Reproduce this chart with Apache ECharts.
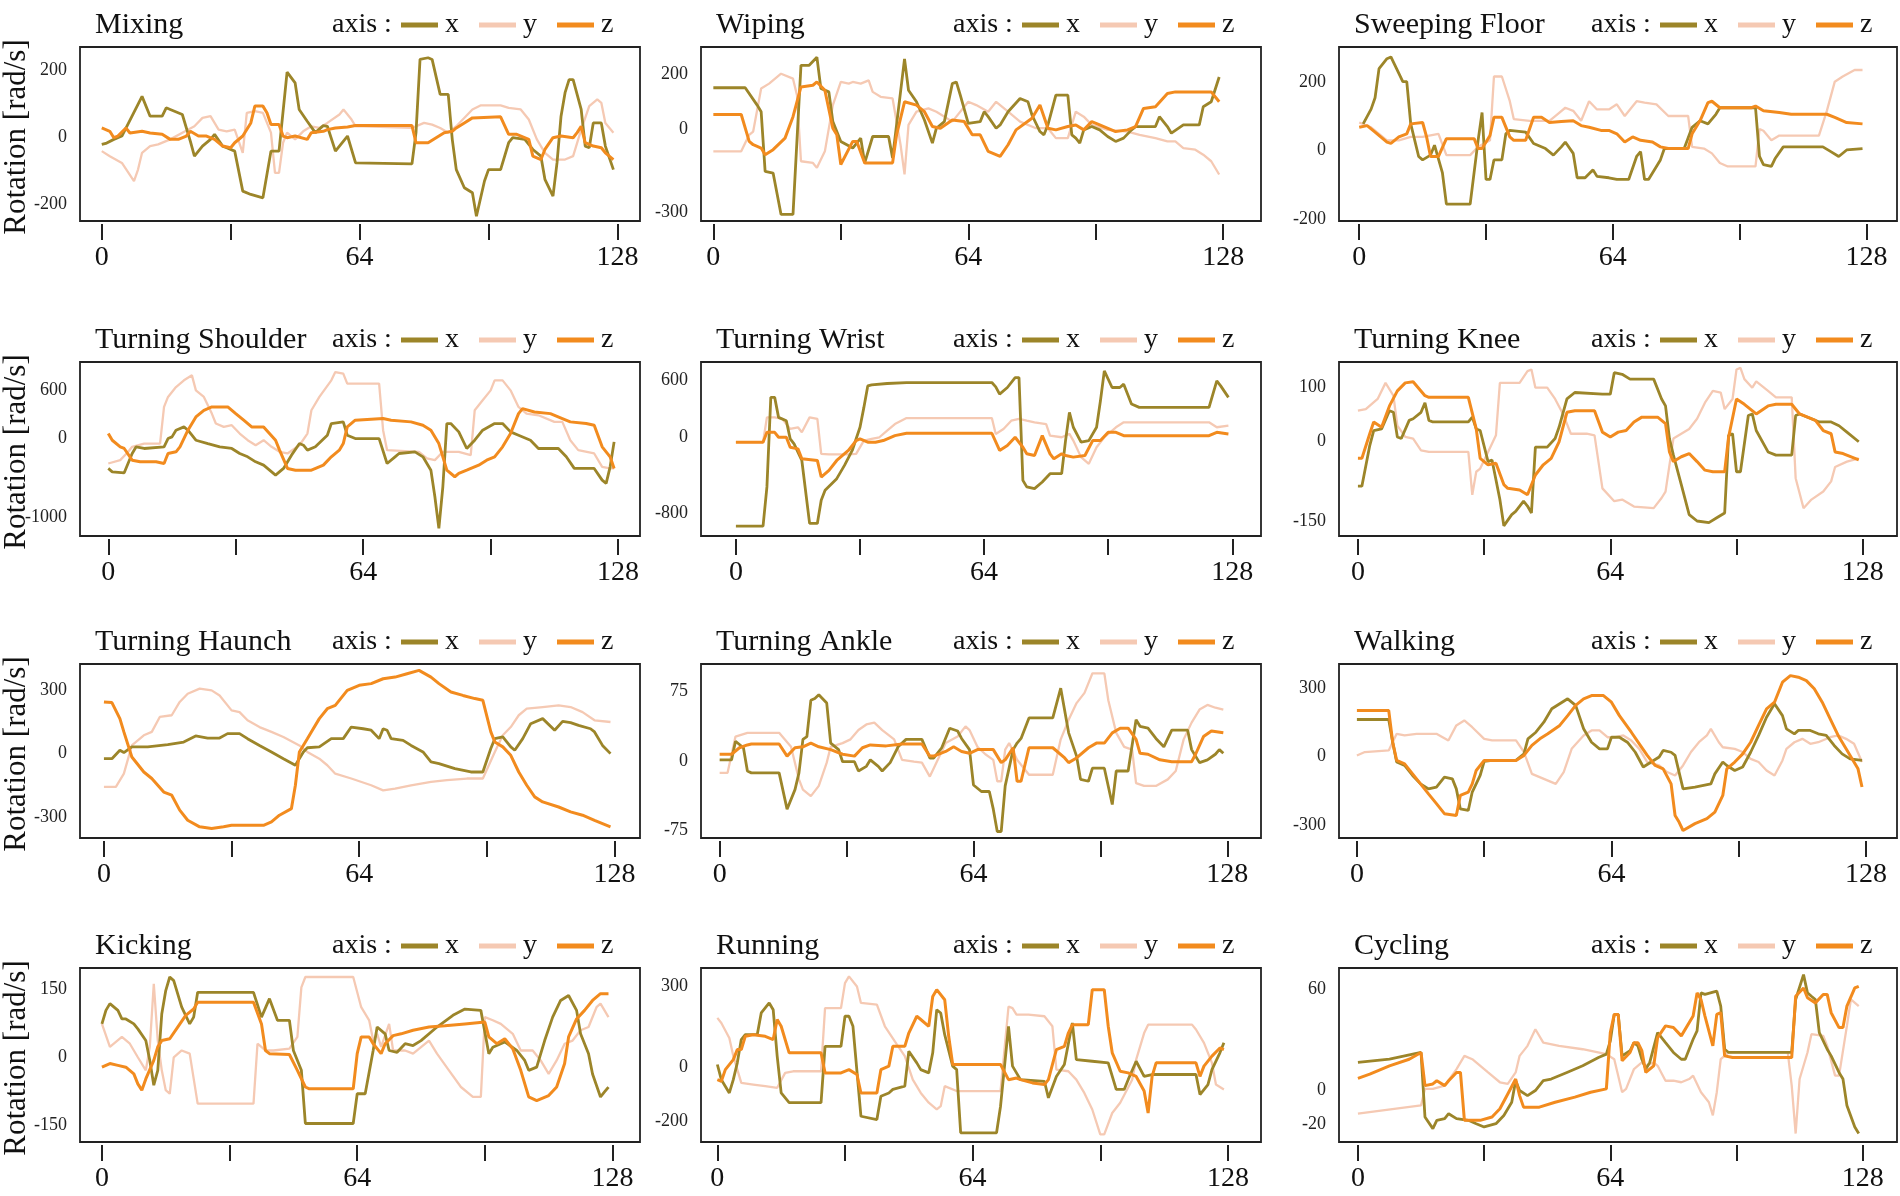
<!DOCTYPE html>
<html><head><meta charset="utf-8">
<script src="https://cdn.jsdelivr.net/npm/echarts@6/dist/echarts.min.js"></script>
<style>html,body{margin:0;padding:0;background:#fff}#c{width:1900px;height:1196px}</style>
</head><body><div id="c"></div>
<script>
// ---------- DATA ----------
const panelTitles = ['Mixing','Wiping','Sweeping Floor','Turning Shoulder','Turning Wrist','Turning Knee','Turning Haunch','Turning Ankle','Walking','Kicking','Running','Cycling'];
const axisNames = ['x','y','z'];
const xTickValues = [0,32,64,96,128];
const xLabelValues = [0,64,128];
const yTickValues = [[200,0,-200],[200,0,-300],[200,0,-200],[600,0,-1000],[600,0,-800],[100,0,-150],[300,0,-300],[75,0,-75],[300,0,-300],[150,0,-150],[300,0,-200],[60,0,-20]];
const yAxisName = 'Rotation [rad/s]';

const mixingX = [[0,-22],[1,-19],[3,-7],[5,3],[10,121],[12,62],[15,62],[16,87],[17,82],[20,67],[22,-13],[23,-57],[25,-27],[27,-7],[28,8],[30,-27],[31,-32],[33,-42],[35,-161],[37,-171],[40,-181],[42,-42],[44,-42],[46,193],[48,161],[49,82],[51,47],[53,13],[55,34],[56,32],[58,-42],[59,-27],[61,3],[63,-77],[77,-80],[78,13],[79,231],[81,236],[82,231],[84,127],[86,127],[87,-7],[88,-97],[90,-151],[92,-166],[93,-236],[95,-131],[96,-97],[99,-97],[101,-17],[102,-2],[105,-7],[107,-37],[109,-57],[110,-126],[112,-176],[113,-77],[114,62],[115,132],[116,171],[117,171],[119,82],[120,-27],[121,-32],[122,42],[124,42],[125,-27],[127,-97]];
const mixingY = [[0,-42],[2,-57],[5,-77],[8,-131],[9,-97],[10,-47],[12,-27],[14,-22],[17,-7],[20,13],[23,32],[25,57],[27,62],[29,22],[31,17],[33,22],[35,-47],[36,72],[38,77],[40,72],[42,13],[43,-107],[44,-107],[45,-17],[46,13],[48,-7],[50,17],[52,32],[54,27],[56,42],[59,67],[60,82],[62,52],[63,32],[65,32],[77,27],[80,42],[82,37],[84,27],[86,13],[88,32],[92,82],[94,94],[99,94],[101,87],[104,82],[106,52],[108,-7],[110,-47],[112,-67],[115,-67],[117,-57],[119,22],[121,92],[123,112],[124,102],[125,42],[127,13]];
const mixingZ = [[0,27],[2,17],[3,-2],[4,3],[6,27],[7,12],[10,17],[12,12],[15,8],[17,-7],[19,-7],[21,3],[22,17],[24,3],[26,3],[28,-7],[30,-27],[32,-32],[33,-17],[35,3],[37,42],[38,92],[40,92],[41,72],[42,37],[44,37],[45,3],[46,-2],[48,3],[51,-7],[52,13],[55,17],[56,22],[58,27],[61,30],[63,34],[77,34],[78,-17],[81,-17],[83,-2],[85,13],[87,17],[88,27],[90,42],[92,57],[99,60],[101,8],[103,8],[106,-7],[107,-57],[109,-67],[110,-37],[112,-2],[114,3],[117,-2],[118,13],[119,32],[120,-17],[122,-27],[124,-32],[125,-47],[127,-67]];

const wipingX = [[0,151],[8,151],[11,88],[12,64],[13,-153],[15,-159],[17,-309],[20,-309],[22,232],[24,232],[26,262],[27,148],[29,136],[30,28],[32,-44],[35,-68],[37,-32],[38,-122],[40,-26],[44,-26],[45,-104],[48,256],[49,142],[51,100],[53,34],[55,-50],[56,4],[58,28],[60,166],[61,172],[62,124],[64,22],[67,28],[68,64],[69,46],[71,4],[72,16],[74,64],[77,112],[79,100],[80,52],[82,-8],[83,-20],[84,16],[86,124],[89,124],[90,-20],[91,-32],[92,-50],[93,-2],[95,10],[97,-2],[99,-26],[101,-44],[103,-32],[105,-2],[106,10],[111,10],[112,46],[114,10],[115,-14],[118,16],[122,16],[123,82],[125,100],[127,190]];
const wipingY = [[0,-80],[7,-80],[9,-20],[10,-8],[12,148],[14,166],[17,202],[20,184],[21,124],[22,-116],[25,-122],[26,-140],[28,-80],[30,88],[32,172],[34,166],[35,172],[37,166],[39,178],[40,136],[42,118],[45,112],[47,-56],[48,-164],[49,16],[51,64],[54,76],[56,64],[60,28],[64,100],[66,88],[69,64],[71,100],[74,64],[77,28],[81,4],[84,4],[86,-32],[89,-32],[91,64],[93,46],[95,16],[99,-2],[104,-8],[107,-20],[111,-32],[114,-44],[116,-44],[118,-68],[121,-74],[123,-92],[125,-116],[127,-164]];
const wipingZ = [[0,54],[7,54],[9,-44],[10,-56],[12,-68],[13,-92],[15,-74],[18,-32],[20,46],[22,154],[25,160],[26,172],[28,142],[30,4],[31,-20],[32,-128],[35,-44],[36,-44],[38,-122],[45,-122],[46,-20],[48,100],[51,88],[53,64],[55,10],[57,4],[60,34],[63,28],[65,-20],[67,-20],[69,-80],[72,-98],[74,-56],[76,-2],[80,40],[82,88],[84,4],[86,-2],[89,10],[91,16],[93,-2],[95,28],[97,16],[101,-8],[104,-2],[106,10],[108,76],[111,82],[114,130],[116,136],[125,136],[127,100]];

const sweepingX = [[1,78],[3,121],[4,154],[5,239],[7,268],[8,273],[9,249],[11,201],[12,201],[13,78],[15,-17],[16,-27],[18,-13],[19,16],[21,-65],[22,-156],[28,-156],[30,30],[31,111],[32,-84],[33,-84],[34,-27],[36,-27],[37,49],[38,59],[42,54],[44,21],[47,6],[49,-13],[51,11],[52,25],[54,-8],[55,-79],[57,-79],[59,-56],[60,-75],[63,-79],[65,-84],[68,-84],[70,-17],[71,-3],[72,-84],[73,-84],[76,-27],[77,6],[82,6],[84,68],[86,87],[88,78],[90,106],[91,125],[100,125],[101,-17],[102,-41],[104,-46],[105,-22],[107,11],[117,11],[119,-3],[121,-17],[123,2],[127,6]];
const sweepingY = [[0,82],[3,68],[7,30],[10,30],[13,40],[16,40],[20,49],[22,-13],[28,-13],[30,11],[33,30],[34,216],[36,216],[38,144],[39,92],[43,87],[48,87],[50,106],[52,125],[54,116],[56,87],[58,144],[60,120],[63,120],[65,135],[67,101],[70,144],[72,140],[75,135],[78,101],[83,101],[84,11],[87,6],[89,-8],[91,-36],[93,-46],[100,-46],[101,63],[102,58],[104,30],[106,44],[116,44],[118,116],[120,201],[122,216],[125,235],[127,235]];
const sweepingZ = [[0,68],[2,73],[4,54],[7,25],[8,21],[10,40],[12,49],[13,78],[16,82],[17,40],[18,-17],[20,-17],[22,35],[29,35],[30,6],[31,6],[33,44],[34,97],[36,97],[38,40],[39,30],[42,30],[44,97],[46,97],[48,82],[51,85],[54,87],[56,73],[58,68],[61,59],[63,59],[65,49],[67,25],[69,40],[71,30],[74,25],[76,11],[78,6],[83,6],[84,49],[86,87],[88,140],[89,144],[91,125],[93,125],[99,125],[100,130],[102,116],[106,111],[109,106],[118,106],[120,97],[123,82],[127,78]];

const shoulderX = [[0,-384],[1,-427],[4,-439],[6,-196],[7,-112],[9,-133],[14,-112],[15,-8],[16,13],[17,97],[19,139],[20,97],[22,-29],[25,-71],[28,-112],[31,-133],[33,-196],[35,-238],[37,-301],[39,-343],[42,-468],[44,-384],[46,-217],[48,-71],[49,-92],[50,-154],[52,-112],[55,34],[56,181],[59,202],[60,34],[62,-8],[68,-8],[70,-322],[72,-238],[73,-196],[77,-175],[79,-238],[81,-406],[82,-741],[83,-1139],[84,-615],[85,181],[86,181],[88,76],[90,-133],[92,-29],[94,97],[97,181],[99,181],[101,76],[103,34],[106,-29],[108,-133],[113,-133],[115,-238],[117,-384],[122,-384],[124,-531],[125,-573],[126,-364],[127,-50]];
const shoulderY = [[0,-322],[3,-280],[5,-175],[6,-112],[9,-71],[13,-71],[14,390],[15,516],[17,641],[19,725],[21,788],[22,599],[24,516],[26,306],[27,181],[29,139],[31,160],[33,55],[35,-29],[37,-92],[39,-29],[41,-112],[43,-175],[45,-196],[48,-92],[50,55],[51,348],[53,516],[56,725],[57,830],[59,809],[60,683],[68,683],[69,97],[70,-154],[78,-175],[80,-259],[82,-280],[84,-175],[88,-175],[91,-217],[92,348],[94,474],[96,599],[97,725],[99,725],[101,599],[103,390],[105,306],[108,285],[112,202],[114,202],[116,-29],[118,-154],[122,-196],[124,-364],[126,-384],[127,-384]];
const shoulderZ = [[0,55],[1,-29],[3,-112],[4,-133],[6,-280],[8,-301],[12,-301],[14,-322],[15,-196],[17,-175],[18,-112],[20,97],[22,264],[24,348],[26,390],[30,390],[32,306],[34,223],[36,139],[39,139],[42,-29],[43,-154],[45,-384],[47,-406],[51,-406],[54,-343],[56,-238],[58,-154],[59,-71],[60,139],[62,223],[69,244],[71,223],[76,202],[79,160],[81,97],[83,-71],[85,-406],[87,-489],[88,-447],[90,-406],[93,-343],[95,-280],[97,-238],[99,-112],[101,55],[103,306],[104,369],[107,327],[111,306],[114,244],[116,202],[120,181],[122,160],[124,-112],[126,-238],[127,-384]];

const wristX = [[0,-937],[7,-937],[8,-525],[9,416],[10,416],[11,206],[13,171],[14,-20],[15,-73],[17,-247],[19,-909],[21,-909],[22,-665],[23,-560],[26,-438],[28,-299],[30,-142],[32,102],[33,311],[34,537],[35,548],[39,562],[44,572],[66,572],[67,527],[68,450],[70,520],[72,624],[73,624],[74,-456],[75,-525],[77,-543],[79,-473],[81,-386],[84,-386],[85,-38],[86,258],[87,102],[89,-55],[91,-38],[93,102],[94,380],[95,694],[97,520],[99,520],[100,555],[102,346],[104,311],[122,311],[124,590],[125,537],[127,416]];
const wristY = [[0,-55],[7,-55],[8,206],[10,206],[12,189],[14,84],[16,102],[17,49],[19,206],[21,189],[22,-177],[24,-183],[29,-183],[31,-177],[33,-38],[35,-20],[37,-3],[39,67],[41,136],[44,199],[66,199],[67,32],[69,84],[71,171],[73,189],[75,171],[77,154],[80,136],[81,14],[84,-3],[86,32],[87,-38],[89,-212],[91,-282],[93,-108],[95,-3],[98,102],[100,154],[122,154],[124,102],[127,119]];
const wristZ = [[0,-55],[7,-55],[8,49],[10,49],[11,-3],[13,-3],[14,-108],[16,-125],[17,-230],[21,-247],[22,-421],[24,-351],[26,-247],[29,-142],[31,-38],[32,-20],[34,-55],[36,-55],[38,-38],[41,14],[44,39],[66,39],[68,-142],[70,-90],[72,-3],[74,-108],[75,-177],[77,-195],[79,14],[81,-177],[82,-230],[84,-177],[85,-195],[87,-212],[90,-195],[92,-38],[94,-38],[96,49],[98,49],[100,14],[122,14],[124,49],[127,32]];

const kneeX = [[0,-84],[1,-84],[3,-8],[4,20],[6,23],[8,57],[9,54],[10,8],[11,5],[13,39],[14,42],[16,54],[17,72],[18,39],[19,36],[28,36],[29,45],[30,23],[31,20],[33,-38],[34,-35],[36,-109],[37,-158],[39,-137],[40,-131],[42,-112],[43,-121],[44,-134],[45,-11],[48,-11],[50,5],[51,26],[53,79],[55,91],[62,88],[64,88],[65,128],[67,125],[69,116],[75,116],[77,79],[78,66],[79,5],[80,-26],[82,-81],[84,-137],[86,-149],[89,-152],[91,-143],[93,-134],[94,11],[95,14],[96,-57],[97,-57],[99,48],[100,51],[101,20],[104,-20],[106,-26],[110,-26],[111,48],[112,51],[115,42],[117,36],[120,36],[122,29],[124,17],[127,-1]];
const kneeY = [[0,57],[2,60],[5,79],[7,109],[9,85],[10,29],[12,8],[14,5],[16,-17],[18,-20],[28,-20],[29,-100],[30,-57],[31,-51],[33,-20],[35,11],[36,109],[41,109],[43,131],[44,134],[45,100],[48,100],[50,79],[52,51],[54,14],[58,14],[60,11],[62,-88],[65,-112],[67,-109],[70,-122],[75,-125],[77,-106],[78,-94],[80,5],[84,23],[86,42],[88,72],[90,94],[92,91],[93,60],[95,79],[96,134],[97,137],[98,116],[100,100],[101,112],[104,94],[106,82],[110,82],[111,-69],[113,-125],[115,-109],[118,-94],[120,-75],[121,-48],[124,-38],[127,-32]];
const kneeZ = [[0,-32],[1,-32],[3,14],[4,36],[6,26],[8,66],[10,94],[12,109],[14,111],[17,85],[18,82],[28,82],[30,23],[31,-32],[33,-44],[35,-41],[37,-81],[38,-88],[41,-91],[43,-100],[45,-63],[47,-44],[49,-32],[51,-1],[53,54],[55,57],[60,57],[62,17],[64,8],[66,17],[68,20],[70,36],[72,45],[76,45],[78,33],[79,-20],[80,-38],[82,-29],[84,-23],[86,-38],[88,-54],[90,-57],[93,-57],[94,8],[96,79],[98,69],[101,51],[104,66],[106,69],[110,69],[112,51],[114,45],[116,39],[118,20],[120,14],[121,-20],[123,-23],[127,-35]];

const haunchX = [[0,-24],[2,-24],[4,16],[5,5],[7,32],[11,32],[16,43],[20,55],[23,84],[26,74],[29,74],[31,95],[34,95],[36,71],[39,39],[42,8],[45,-24],[48,-55],[50,8],[51,28],[54,32],[57,71],[60,71],[62,126],[65,118],[67,111],[69,71],[70,118],[71,111],[72,71],[75,63],[77,39],[80,8],[82,-39],[84,-47],[88,-71],[92,-87],[95,-87],[97,24],[98,71],[100,79],[102,32],[103,16],[105,71],[107,142],[110,166],[113,111],[115,153],[117,147],[119,134],[122,118],[123,103],[125,39],[127,0]];
const haunchY = [[0,-158],[3,-158],[5,-95],[7,39],[10,87],[12,103],[14,174],[17,182],[19,245],[21,284],[24,308],[27,300],[29,276],[32,205],[34,197],[36,158],[39,126],[42,103],[45,79],[49,39],[51,8],[54,-24],[56,-55],[58,-95],[62,-118],[67,-150],[70,-174],[73,-166],[77,-150],[82,-134],[86,-126],[91,-118],[95,-118],[98,8],[100,87],[102,126],[104,182],[106,213],[110,221],[114,229],[117,221],[120,197],[123,158],[127,150]];
const haunchZ = [[0,245],[2,242],[4,166],[5,103],[7,-16],[10,-87],[12,-118],[15,-182],[17,-197],[19,-268],[21,-316],[24,-347],[27,-355],[30,-347],[32,-340],[40,-340],[42,-324],[44,-292],[47,-261],[48,-150],[49,8],[51,71],[52,103],[54,166],[56,213],[58,229],[61,300],[64,324],[67,332],[70,355],[73,363],[76,379],[79,395],[82,363],[84,332],[87,292],[90,276],[93,261],[95,253],[97,103],[98,55],[100,32],[102,-8],[104,-87],[106,-150],[108,-205],[110,-229],[114,-253],[117,-276],[120,-292],[123,-316],[127,-347]];

const ankleX = [[0,1],[3,1],[4,21],[6,14],[7,-11],[8,-13],[15,-13],[17,-52],[19,-31],[20,-13],[21,23],[22,26],[23,65],[24,67],[25,71],[27,62],[28,19],[30,12],[31,-1],[34,-1],[35,-11],[37,-6],[38,1],[40,-6],[41,-11],[43,-2],[45,15],[47,23],[51,23],[53,3],[54,3],[56,14],[58,35],[60,32],[61,24],[63,12],[64,-26],[66,-33],[68,-33],[69,-52],[70,-76],[71,-76],[72,-27],[74,12],[75,19],[76,24],[78,46],[84,46],[86,78],[88,30],[90,5],[91,-20],[93,-22],[94,-8],[97,-8],[99,-47],[100,-11],[103,-11],[105,44],[106,37],[108,35],[110,24],[112,15],[114,33],[118,33],[119,12],[121,-2],[123,1],[125,7],[126,12],[127,8]];
const ankleY = [[0,-13],[2,-13],[4,26],[7,30],[15,30],[18,15],[20,-20],[21,-31],[23,-38],[25,-27],[27,-2],[28,15],[31,19],[33,23],[35,33],[37,39],[39,41],[41,33],[44,23],[46,1],[49,-1],[51,-2],[53,-17],[55,1],[57,19],[60,26],[62,37],[63,33],[65,15],[67,7],[69,1],[70,-22],[71,-22],[72,12],[73,19],[75,1],[78,-15],[84,-15],[86,23],[88,44],[90,62],[92,73],[94,94],[97,94],[98,65],[100,30],[102,15],[104,12],[105,-24],[107,-27],[110,-27],[113,-20],[115,-11],[117,23],[119,41],[121,55],[123,60],[125,57],[127,55]];
const ankleZ = [[0,7],[3,7],[5,14],[7,17],[8,18],[15,18],[17,5],[19,14],[21,15],[23,19],[25,15],[28,12],[31,7],[34,5],[36,14],[38,17],[42,16],[46,18],[51,18],[53,5],[54,5],[57,10],[59,15],[61,10],[63,8],[65,12],[69,12],[71,-2],[72,1],[74,14],[75,-22],[76,-22],[78,14],[84,14],[87,3],[88,-2],[90,3],[93,14],[95,19],[97,19],[99,30],[101,35],[103,35],[105,23],[106,8],[108,7],[111,1],[114,-1],[119,-1],[120,7],[122,26],[124,32],[127,30]];

const walkingX = [[0,163],[8,163],[9,63],[10,-24],[12,-39],[14,-83],[16,-120],[18,-142],[20,-134],[22,-90],[24,-98],[25,-142],[26,-230],[28,-237],[29,-156],[31,-83],[32,-21],[34,-17],[40,-17],[42,12],[43,78],[45,107],[47,151],[49,210],[51,232],[53,254],[55,225],[57,122],[59,63],[61,34],[63,34],[64,85],[66,85],[68,63],[70,19],[72,-46],[74,-24],[76,-2],[77,27],[79,19],[80,5],[82,-142],[85,-134],[89,-120],[90,-76],[92,-24],[93,-39],[95,-61],[97,-46],[99,19],[101,93],[103,173],[105,232],[107,180],[108,122],[110,100],[111,115],[114,115],[116,100],[118,93],[120,49],[122,12],[124,-10],[127,-17]];
const walkingY = [[0,5],[2,20],[8,27],[10,100],[12,93],[15,100],[20,100],[23,71],[25,137],[27,159],[29,129],[32,78],[34,71],[40,71],[42,20],[44,-76],[47,-98],[50,-120],[52,-68],[54,34],[57,93],[59,115],[61,115],[63,85],[65,85],[67,93],[69,71],[71,34],[73,-24],[76,-39],[78,-68],[80,-83],[82,-39],[84,20],[86,63],[88,93],[89,122],[91,63],[92,41],[95,34],[97,20],[99,-10],[101,-24],[103,-61],[105,-83],[107,-17],[108,34],[110,63],[112,78],[114,56],[116,63],[119,85],[121,93],[123,78],[125,56],[127,-24]];
const walkingZ = [[0,203],[8,203],[9,63],[10,-17],[12,-32],[14,-76],[16,-120],[18,-164],[20,-207],[22,-251],[25,-259],[26,-171],[28,-156],[29,-120],[30,-61],[32,-17],[40,-17],[42,5],[44,49],[46,78],[48,100],[51,137],[53,180],[55,225],[57,254],[59,268],[62,268],[64,239],[66,180],[69,107],[71,56],[73,5],[75,-39],[77,-54],[79,-120],[80,-259],[81,-288],[82,-325],[85,-295],[88,-273],[90,-244],[92,-171],[93,-54],[95,-24],[97,12],[99,63],[101,137],[103,210],[105,239],[107,327],[109,356],[111,349],[113,334],[115,298],[117,239],[119,166],[121,93],[123,34],[126,-54],[127,-134]];

const kickingX = [[0,74],[1,104],[2,119],[4,104],[5,85],[6,85],[8,74],[9,63],[11,37],[12,-7],[13,-62],[14,-29],[15,96],[16,148],[17,178],[18,170],[20,111],[22,74],[23,89],[24,144],[38,144],[40,89],[42,130],[44,82],[47,82],[48,15],[50,-29],[51,-147],[63,-147],[64,-81],[66,-81],[68,15],[69,67],[71,52],[72,15],[74,11],[76,30],[78,26],[80,37],[84,67],[88,93],[91,107],[95,104],[97,8],[98,22],[101,34],[104,15],[106,-7],[107,-29],[109,-22],[111,37],[113,89],[115,126],[117,137],[119,104],[120,52],[122,8],[123,-37],[125,-88],[126,-77],[127,-66]];
const kickingY = [[0,74],[2,23],[5,45],[7,30],[9,0],[11,-29],[12,23],[13,163],[14,37],[15,-29],[16,-73],[17,-81],[18,0],[20,15],[22,8],[24,-103],[38,-103],[39,30],[41,15],[43,15],[47,19],[49,45],[50,155],[51,178],[63,178],[65,111],[67,82],[68,37],[69,52],[70,23],[72,74],[73,15],[76,15],[78,8],[82,37],[84,8],[87,-29],[90,-66],[93,-88],[95,-88],[96,89],[98,82],[100,74],[103,52],[105,15],[108,15],[110,-7],[112,-37],[114,-7],[116,30],[118,37],[120,60],[122,67],[124,111],[125,119],[127,89]];
const kickingZ = [[0,-22],[2,-14],[4,-18],[6,-22],[8,-37],[9,-59],[10,-73],[11,-48],[13,-7],[14,23],[15,37],[17,41],[19,67],[21,93],[23,107],[24,122],[38,122],[40,74],[41,15],[42,8],[47,6],[49,-29],[51,-66],[52,-70],[63,-70],[64,8],[65,45],[67,45],[68,30],[70,8],[71,30],[73,48],[75,52],[78,60],[82,67],[86,70],[91,74],[96,78],[97,45],[99,30],[101,41],[103,19],[105,-29],[107,-88],[109,-96],[112,-85],[114,-66],[116,-14],[117,45],[119,85],[121,104],[123,126],[125,141],[127,141]];

const runningX = [[0,11],[1,-45],[3,-94],[4,-45],[5,17],[6,103],[7,121],[10,121],[11,201],[13,238],[14,213],[15,42],[16,-94],[18,-130],[26,-130],[27,78],[31,78],[32,189],[33,189],[34,152],[36,-180],[40,-192],[41,-106],[43,-94],[44,-81],[47,-69],[48,60],[50,17],[51,-8],[53,-20],[54,54],[55,213],[56,201],[57,121],[59,5],[60,-8],[61,-241],[70,-241],[71,-143],[72,5],[73,152],[74,5],[76,-45],[82,-51],[83,-112],[85,-33],[87,11],[89,164],[90,29],[94,23],[98,17],[100,-81],[102,-81],[103,-45],[105,23],[107,-33],[109,-26],[120,-26],[121,-100],[123,-63],[124,-8],[126,54],[127,91]];
const runningY = [[0,183],[1,164],[3,109],[4,42],[6,-57],[9,-63],[12,-69],[15,-75],[17,-20],[19,-14],[26,-14],[27,219],[31,219],[32,311],[33,336],[35,299],[36,238],[40,232],[42,152],[45,85],[47,42],[49,-45],[51,-94],[53,-130],[55,-155],[56,-143],[57,-69],[60,-87],[71,-87],[73,225],[74,219],[75,195],[78,195],[82,189],[84,152],[85,-8],[88,-14],[90,-45],[92,-94],[94,-155],[96,-247],[97,-247],[99,-168],[101,-130],[104,-45],[105,29],[107,127],[108,158],[119,158],[120,140],[122,91],[124,17],[125,-63],[127,-81]];
const runningZ = [[0,-45],[1,-51],[2,-8],[4,29],[5,66],[6,66],[7,115],[9,121],[12,115],[14,103],[15,177],[16,152],[18,54],[26,54],[27,-20],[31,-20],[33,-8],[35,-26],[36,-94],[40,-94],[41,-8],[43,5],[44,78],[47,78],[48,127],[50,189],[51,177],[53,152],[54,262],[55,287],[57,250],[58,115],[59,11],[71,11],[73,-45],[75,-39],[76,-45],[79,-57],[82,-63],[83,-45],[85,66],[87,78],[88,127],[89,158],[93,158],[94,287],[97,287],[98,152],[99,54],[101,-14],[103,-20],[105,-33],[107,-87],[108,-168],[109,-33],[110,17],[120,17],[121,-33],[122,5],[124,42],[126,72],[127,66]];

const cyclingX = [[0,16.6],[8,18.5],[16,22.5],[17,-15.6],[19,-22.5],[20,-17.6],[22,-16.6],[23,-13.7],[25,-16.6],[28,-17.6],[30,-19.6],[32,-21.5],[35,-19.6],[37,-14.7],[39,-6.9],[40,5.8],[41,0],[43,-3],[45,0],[47,5.8],[49,6.8],[53,10.7],[57,14.6],[61,19.5],[63,21.5],[64,29.3],[65,45],[66,45],[67,20.5],[69,23.5],[70,28.3],[71,26.4],[72,18.5],[73,12.7],[74,16.6],[76,34.2],[78,28.3],[80,22.5],[82,18.5],[83,18.5],[85,30.3],[86,35.2],[87,57.7],[88,56.8],[91,58.7],[92,49.9],[93,24.4],[94,22.5],[110,22.5],[111,53.8],[113,68.5],[114,57.7],[115,55.7],[116,53.8],[117,34.2],[119,24.4],[120,20.5],[122,10.7],[123,6.8],[124,-8.8],[126,-21.5],[127,-25.4]];
const cyclingY = [[0,-13.7],[16,-8.8],[17,1],[19,1],[22,2.9],[25,12.7],[27,20.5],[29,18.5],[33,10.7],[36,4.9],[38,3.9],[40,10.7],[41,20.5],[43,26.4],[45,36.2],[47,28.3],[51,26.4],[57,24.4],[63,21.5],[65,18.5],[67,-1],[68,1],[70,12.7],[72,16.6],[73,14.6],[75,16.6],[76,14.6],[78,5.8],[80,5.8],[82,4.9],[84,6.8],[85,8.8],[87,-1],[89,-6.9],[90,-14.7],[91,-1],[92,18.5],[94,22.5],[109,22.5],[110,2.9],[111,-25.4],[112,6.8],[114,22.5],[115,33.3],[118,32.3],[119,26.4],[121,8.8],[122,8.8],[124,38.2],[125,53.8],[127,49.9]];
const cyclingZ = [[0,7.2],[3,9.7],[8,14.6],[13,18.5],[16,22.5],[17,2.9],[19,3.9],[20,5.8],[22,2.9],[23,5.8],[25,10.7],[26,10.7],[27,-17.6],[31,-17.6],[34,-15.6],[36,-10.8],[38,-2],[40,6.8],[41,-3],[42,-9.8],[46,-9.8],[50,-6.9],[55,-3.9],[59,-1],[63,1],[64,34.2],[65,45],[66,45],[67,17.6],[69,22.5],[70,28.3],[71,28.3],[72,23.5],[73,10.7],[75,14.6],[76,31.3],[78,38.2],[80,37.2],[82,32.3],[85,44],[86,57.7],[87,53.8],[88,44],[90,26.4],[91,45],[92,46],[93,20.5],[95,19.5],[110,19.5],[111,55.7],[113,60.6],[114,54.8],[116,51.8],[118,56.8],[119,56.8],[120,46],[122,37.2],[123,37.2],[124,49.9],[126,60.6],[127,61.6]];

const panelSeries = [
  [mixingX, mixingY, mixingZ], [wipingX, wipingY, wipingZ], [sweepingX, sweepingY, sweepingZ],
  [shoulderX, shoulderY, shoulderZ], [wristX, wristY, wristZ], [kneeX, kneeY, kneeZ],
  [haunchX, haunchY, haunchZ], [ankleX, ankleY, ankleZ], [walkingX, walkingY, walkingZ],
  [kickingX, kickingY, kickingZ], [runningX, runningY, runningZ], [cyclingX, cyclingY, cyclingZ]
];

// ---------- LAYOUT / STYLE ----------
const colLeft = [80, 701, 1339];
const colWidth = [560, 560, 558];
const rowTop = [47, 362, 664, 968];
const boxH = 174;
const xRange = [[-5.4,133.6],[-3.1,137.5],[-5.1,135.7],[-7.1,133.5],[-9,135.4],[-4.8,136.7],[-6,134.4],[-4.7,136.5],[-4.5,135.8],[-5.5,134.9],[-4.1,136.3],[-4.8,136.7]];
const yRange = [[-250,268],[-333,299],[-205,302],[-1235,956],[-1041,788],[-177,148],[-400,425],[-83,104],[-358,407],[-188,198],[-275,367],[-30.4,72.4]];
const colors = ['#9C8529', '#F5C9B3', '#F28B1E'];
const widths = [2.8, 2.3, 3];
const zs = [3, 2, 4];
const FONT = '"Liberation Serif", "DejaVu Serif", serif';

const grids = [], xAxes = [], yAxes = [], series = [], titles = [], legends = [], graphics = [];
for (let i = 0; i < 12; i++) {
  const r = Math.floor(i / 3), c = i % 3;
  const left = colLeft[c], top = rowTop[r];
  const headY = top - 22;
  grids.push({ left: left, top: top, width: colWidth[c], height: boxH, show: true,
    borderColor: '#222', borderWidth: 1.8, backgroundColor: 'transparent' });
  xAxes.push({ type: 'value', gridIndex: i, min: xRange[i][0], max: xRange[i][1], position: 'bottom', offset: 3,
    axisLine: { show: false, onZero: false }, splitLine: { show: false },
    axisTick: { show: true, customValues: xTickValues, length: 16, lineStyle: { color: '#222', width: 2 } },
    axisLabel: { customValues: xLabelValues, margin: 20, fontSize: 28, color: '#111', fontFamily: FONT } });
  yAxes.push({ type: 'value', gridIndex: i, min: yRange[i][0], max: yRange[i][1],
    axisLine: { show: false, onZero: false }, axisTick: { show: false }, splitLine: { show: false },
    axisLabel: { customValues: yTickValues[i], margin: 13, fontSize: 18, color: '#222', fontFamily: FONT,
      formatter: function (v) { return String(v); } } });
  for (let j = 0; j < 3; j++) {
    series.push({ type: 'line', name: axisNames[j], xAxisIndex: i, yAxisIndex: i,
      data: panelSeries[i][j], showSymbol: false, symbol: 'none', z: zs[j],
      lineStyle: { color: colors[j], width: widths[j] }, itemStyle: { color: colors[j] } });
  }
  titles.push({ text: panelTitles[i], left: left - 3, top: headY - 15, padding: 0,
    textStyle: { fontSize: 30, fontWeight: 'normal', color: '#111', fontFamily: FONT } });
  legends.push({ data: axisNames, left: left + 321, top: headY - 14, padding: 0, itemGap: 20,
    icon: 'rect', itemWidth: 37, itemHeight: 5, selectedMode: false,
    textStyle: { fontSize: 28, color: '#111', fontFamily: FONT, padding: [0, 0, 4, 2] } });
  graphics.push({ type: 'text', left: left + 252, top: headY - 14,
    style: { text: 'axis :', font: '28px ' + FONT, fill: '#111' } });
  if (c === 0) {
    graphics.push({ type: 'text', x: 17, y: top + boxH / 2 + 3, rotation: Math.PI / 2,
      style: { text: yAxisName, font: '31px ' + FONT, fill: '#111', align: 'center', verticalAlign: 'middle' } });
  }
}
// title left offset fix (titles sit 15px right of the box)
titles.forEach(function (t, i) { t.left = colLeft[i % 3] + 15; });

const chart = echarts.init(document.getElementById('c'), null, { renderer: 'canvas' });
chart.setOption({
  backgroundColor: '#fff', animation: false,
  title: titles, legend: legends, grid: grids, xAxis: xAxes, yAxis: yAxes, series: series, graphic: graphics
});
</script></body></html>
